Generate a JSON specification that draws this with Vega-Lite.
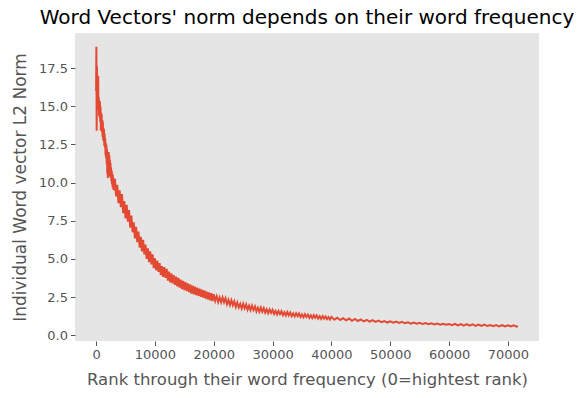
{
"$schema": "https://vega.github.io/schema/vega-lite/v6.json",
"width": 464, "height": 308,
"autosize": {"type": "none"},
"padding": {"left": 75, "top": 33, "right": 45, "bottom": 57},
"background": "white",
"title": {"text": "Word Vectors' norm depends on their word frequency", "font": "DejaVu Sans", "fontSize": 20, "fontWeight": "normal", "color": "black", "anchor": "middle", "offset": 5},
"config": {
 "view": {"fill": "#E5E5E5", "stroke": null},
 "axis": {"grid": false, "domain": false, "tickColor": "#555555", "tickSize": 4.5, "tickWidth": 1, "labelColor": "#555555", "labelFont": "DejaVu Sans", "labelFontSize": 13, "labelPadding": 3, "titleFont": "DejaVu Sans", "titleFontSize": 17, "titleFontWeight": "normal", "titleColor": "#555555"}
},
"data": {"values": [
{"rank":0,"norm":16.0},{"rank":50,"norm":18.9},{"rank":100,"norm":13.4},{"rank":150,"norm":17.6},{"rank":200,"norm":15.2},{"rank":250,"norm":16.8},{"rank":300,"norm":15.0},{"rank":350,"norm":17.0},{"rank":400,"norm":14.8},{"rank":450,"norm":15.6},
{"rank":500,"norm":14.4},{"rank":550,"norm":15.4},{"rank":600,"norm":14.3},{"rank":650,"norm":15.3},{"rank":700,"norm":14.0},{"rank":750,"norm":15.0},{"rank":800,"norm":13.4},{"rank":850,"norm":14.6},{"rank":900,"norm":13.6},{"rank":950,"norm":14.5},
{"rank":1000,"norm":13.3},{"rank":1050,"norm":14.1},{"rank":1100,"norm":13.0},{"rank":1150,"norm":14.0},{"rank":1200,"norm":12.8},{"rank":1250,"norm":13.6},{"rank":1300,"norm":12.7},{"rank":1350,"norm":13.5},{"rank":1400,"norm":12.4},{"rank":1450,"norm":13.2},
{"rank":1500,"norm":12.3},{"rank":1550,"norm":12.9},{"rank":1600,"norm":11.8},{"rank":1650,"norm":12.6},{"rank":1700,"norm":11.6},{"rank":1750,"norm":12.5},{"rank":1800,"norm":11.2},{"rank":1850,"norm":12.2},{"rank":1900,"norm":10.6},{"rank":1950,"norm":11.9},
{"rank":2000,"norm":10.3},{"rank":2050,"norm":11.8},{"rank":2100,"norm":10.4},{"rank":2150,"norm":12.0},{"rank":2200,"norm":10.6},{"rank":2250,"norm":11.8},{"rank":2300,"norm":10.5},{"rank":2350,"norm":11.5},{"rank":2400,"norm":10.4},{"rank":2450,"norm":11.3},
{"rank":2500,"norm":10.3},{"rank":2550,"norm":11.0},{"rank":2600,"norm":10.1},{"rank":2650,"norm":10.8},{"rank":2700,"norm":9.9},{"rank":2750,"norm":10.6},{"rank":2800,"norm":9.7},{"rank":2850,"norm":10.5},{"rank":2900,"norm":9.6},{"rank":2950,"norm":10.3},
{"rank":3000,"norm":9.5},{"rank":3200,"norm":10.25},{"rank":3400,"norm":9.1},{"rank":3600,"norm":9.85},{"rank":3800,"norm":8.65},{"rank":4000,"norm":9.5},{"rank":4200,"norm":8.4},{"rank":4400,"norm":9.25},{"rank":4600,"norm":8.0},{"rank":4800,"norm":8.8},
{"rank":5000,"norm":7.65},{"rank":5200,"norm":8.55},{"rank":5400,"norm":7.45},{"rank":5600,"norm":8.2},{"rank":5800,"norm":7.05},{"rank":6000,"norm":7.85},{"rank":6200,"norm":6.75},{"rank":6400,"norm":7.4},{"rank":6600,"norm":6.35},{"rank":6800,"norm":7.1},
{"rank":7000,"norm":6.1},{"rank":7200,"norm":6.8},{"rank":7400,"norm":5.75},{"rank":7600,"norm":6.45},{"rank":7800,"norm":5.5},{"rank":8000,"norm":6.25},{"rank":8200,"norm":5.3},{"rank":8400,"norm":5.95},{"rank":8600,"norm":5.0},{"rank":8800,"norm":5.7},
{"rank":9000,"norm":4.8},{"rank":9200,"norm":5.5},{"rank":9400,"norm":4.65},{"rank":9600,"norm":5.3},{"rank":9800,"norm":4.4},{"rank":10000,"norm":5.05},{"rank":10200,"norm":4.27},{"rank":10400,"norm":4.9},{"rank":10600,"norm":4.16},{"rank":10800,"norm":4.73},
{"rank":11000,"norm":3.95},{"rank":11200,"norm":4.54},{"rank":11400,"norm":3.83},{"rank":11600,"norm":4.47},{"rank":11800,"norm":3.76},{"rank":12000,"norm":4.35},{"rank":12200,"norm":3.59},{"rank":12400,"norm":4.18},{"rank":12600,"norm":3.47},{"rank":12800,"norm":4.06},
{"rank":13000,"norm":3.4},{"rank":13200,"norm":3.95},{"rank":13400,"norm":3.3},{"rank":13600,"norm":3.85},{"rank":13800,"norm":3.21},{"rank":14000,"norm":3.76},{"rank":14200,"norm":3.12},{"rank":14400,"norm":3.65},{"rank":14600,"norm":3.03},{"rank":14800,"norm":3.57},
{"rank":15000,"norm":2.97},{"rank":15200,"norm":3.49},{"rank":15400,"norm":2.89},{"rank":15600,"norm":3.41},{"rank":15800,"norm":2.83},{"rank":16000,"norm":3.33},{"rank":16200,"norm":2.74},{"rank":16400,"norm":3.25},{"rank":16600,"norm":2.68},{"rank":16800,"norm":3.19},
{"rank":17000,"norm":2.64},{"rank":17200,"norm":3.13},{"rank":17400,"norm":2.58},{"rank":17600,"norm":3.06},{"rank":17800,"norm":2.52},{"rank":18000,"norm":3.0},{"rank":18200,"norm":2.47},{"rank":18400,"norm":2.94},{"rank":18600,"norm":2.41},{"rank":18800,"norm":2.87},
{"rank":19000,"norm":2.35},{"rank":19200,"norm":2.81},{"rank":19400,"norm":2.3},{"rank":19600,"norm":2.76},{"rank":19800,"norm":2.25},{"rank":20000,"norm":2.69},
{"rank":20250,"norm":2.26},{"rank":20500,"norm":2.56},{"rank":20750,"norm":2.19},{"rank":21000,"norm":2.48},{"rank":21250,"norm":2.16},{"rank":21500,"norm":2.48},{"rank":21750,"norm":2.16},{"rank":22000,"norm":2.43},{"rank":22250,"norm":2.04},{"rank":22500,"norm":2.32},
{"rank":22750,"norm":1.99},{"rank":23000,"norm":2.30},{"rank":23250,"norm":1.97},{"rank":23500,"norm":2.23},{"rank":23750,"norm":1.86},{"rank":24000,"norm":2.15},{"rank":24250,"norm":1.82},{"rank":24500,"norm":2.06},{"rank":24750,"norm":1.76},{"rank":25000,"norm":2.07},
{"rank":25250,"norm":1.77},{"rank":25500,"norm":2.02},{"rank":25750,"norm":1.68},{"rank":26000,"norm":1.94},{"rank":26250,"norm":1.65},{"rank":26500,"norm":1.94},{"rank":26750,"norm":1.66},{"rank":27000,"norm":1.89},{"rank":27250,"norm":1.57},{"rank":27500,"norm":1.81},
{"rank":27750,"norm":1.54},{"rank":28000,"norm":1.82},{"rank":28250,"norm":1.55},{"rank":28500,"norm":1.78},{"rank":28750,"norm":1.48},{"rank":29000,"norm":1.70},{"rank":29250,"norm":1.45},{"rank":29500,"norm":1.70},{"rank":29750,"norm":1.47},{"rank":30000,"norm":1.67},
{"rank":30250,"norm":1.40},{"rank":30500,"norm":1.60},{"rank":30750,"norm":1.37},{"rank":31000,"norm":1.60},{"rank":31250,"norm":1.39},{"rank":31500,"norm":1.58},{"rank":31750,"norm":1.32},{"rank":32000,"norm":1.51},{"rank":32250,"norm":1.30},{"rank":32500,"norm":1.53},
{"rank":32750,"norm":1.31},{"rank":33000,"norm":1.50},{"rank":33250,"norm":1.26},{"rank":33500,"norm":1.44},{"rank":33750,"norm":1.24},{"rank":34000,"norm":1.45},{"rank":34250,"norm":1.26},{"rank":34500,"norm":1.43},{"rank":34750,"norm":1.20},{"rank":35000,"norm":1.37},
{"rank":35250,"norm":1.18},{"rank":35500,"norm":1.38},{"rank":35750,"norm":1.20},{"rank":36000,"norm":1.36},{"rank":36250,"norm":1.15},{"rank":36500,"norm":1.31},{"rank":36750,"norm":1.13},{"rank":37000,"norm":1.32},{"rank":37250,"norm":1.15},{"rank":37500,"norm":1.31},
{"rank":37750,"norm":1.10},{"rank":38000,"norm":1.25},{"rank":38250,"norm":1.08},{"rank":38500,"norm":1.26},{"rank":38750,"norm":1.10},{"rank":39000,"norm":1.24},{"rank":39250,"norm":1.06},{"rank":39500,"norm":1.20},{"rank":39750,"norm":1.04},{"rank":40000,"norm":1.21},
{"rank":40500,"norm":1.03},{"rank":41000,"norm":1.16},{"rank":41500,"norm":1.01},{"rank":42000,"norm":1.13},{"rank":42500,"norm":0.98},{"rank":43000,"norm":1.10},{"rank":43500,"norm":0.95},{"rank":44000,"norm":1.07},{"rank":44500,"norm":0.94},{"rank":45000,"norm":1.04},
{"rank":45500,"norm":0.91},{"rank":46000,"norm":1.01},{"rank":46500,"norm":0.90},{"rank":47000,"norm":0.99},{"rank":47500,"norm":0.88},{"rank":48000,"norm":0.96},{"rank":48500,"norm":0.86},{"rank":49000,"norm":0.94},{"rank":49500,"norm":0.84},{"rank":50000,"norm":0.92},
{"rank":50500,"norm":0.83},{"rank":51000,"norm":0.90},{"rank":51500,"norm":0.81},{"rank":52000,"norm":0.88},{"rank":52500,"norm":0.79},{"rank":53000,"norm":0.86},{"rank":53500,"norm":0.77},{"rank":54000,"norm":0.84},{"rank":54500,"norm":0.76},{"rank":55000,"norm":0.82},
{"rank":55500,"norm":0.74},{"rank":56000,"norm":0.80},{"rank":56500,"norm":0.73},{"rank":57000,"norm":0.79},{"rank":57500,"norm":0.71},{"rank":58000,"norm":0.77},{"rank":58500,"norm":0.70},{"rank":59000,"norm":0.76},{"rank":59500,"norm":0.69},{"rank":60000,"norm":0.74},
{"rank":60500,"norm":0.66},{"rank":61000,"norm":0.75},{"rank":61500,"norm":0.65},{"rank":62000,"norm":0.74},{"rank":62500,"norm":0.64},{"rank":63000,"norm":0.73},{"rank":63500,"norm":0.63},{"rank":64000,"norm":0.72},{"rank":64500,"norm":0.62},{"rank":65000,"norm":0.71},
{"rank":65500,"norm":0.62},{"rank":66000,"norm":0.7},{"rank":66500,"norm":0.61},{"rank":67000,"norm":0.68},{"rank":67500,"norm":0.6},{"rank":68000,"norm":0.67},{"rank":68500,"norm":0.59},{"rank":69000,"norm":0.665},{"rank":69500,"norm":0.58},{"rank":70000,"norm":0.66},
{"rank":70500,"norm":0.58},{"rank":71000,"norm":0.65},{"rank":71500,"norm":0.57},{"rank":71700,"norm":0.61}
]},
"mark": {"type": "line", "color": "#E24A33", "strokeWidth": 2, "strokeJoin": "miter"},
"encoding": {
 "x": {"field": "rank", "type": "quantitative", "scale": {"domain": [-3585, 75285], "nice": false, "zero": false},
  "axis": {"values": [0, 10000, 20000, 30000, 40000, 50000, 60000, 70000], "format": "d", "title": "Rank through their word frequency (0=hightest rank)", "titleFontSize": 16.5, "titlePadding": 10}},
 "y": {"field": "norm", "type": "quantitative", "scale": {"domain": [-0.37, 19.8], "nice": false, "zero": false},
  "axis": {"values": [0, 2.5, 5, 7.5, 10, 12.5, 15, 17.5], "format": ".1f", "title": "Individual Word vector L2 Norm", "titlePadding": 9}}
}
}
